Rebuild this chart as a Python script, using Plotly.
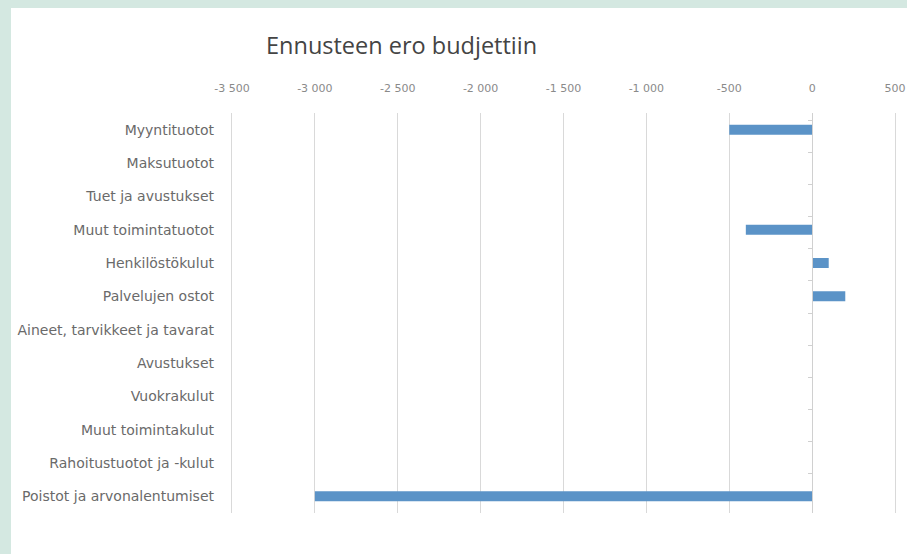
import plotly.graph_objects as go

categories = [
    "Myyntituotot",
    "Maksutuotot",
    "Tuet ja avustukset",
    "Muut toimintatuotot",
    "Henkilöstökulut",
    "Palvelujen ostot",
    "Aineet, tarvikkeet ja tavarat",
    "Avustukset",
    "Vuokrakulut",
    "Muut toimintakulut",
    "Rahoitustuotot ja -kulut",
    "Poistot ja arvonalentumiset",
]
values = [-500, 0, 0, -400, 100, 200, 0, 0, 0, 0, 0, -3000]

tick_vals = [-3500, -3000, -2500, -2000, -1500, -1000, -500, 0, 500]
tick_text = ["-3 500", "-3 000", "-2 500", "-2 000", "-1 500", "-1 000", "-500", "0", "500"]

title_text = "Ennusteen ero budjettiin"

W, H = 907, 554
L, R, T, B = 230, 10, 113, 41
pw = W - L - R
ph = H - T - B

X_MIN, X_MAX = -3512, 512

def px_x(x):
    return (x - L) / pw

def px_y(y):
    return (H - B - y) / ph

fig = go.Figure()
fig.add_trace(go.Bar(
    x=values, y=categories, orientation="h",
    marker=dict(color="#5b93c7", line=dict(width=0)),
    hoverinfo="x+y",
))
# invisible trace to carry the zero-axis tick marks
fig.add_trace(go.Scatter(
    x=[0] * len(categories), y=categories, yaxis="y2",
    mode="markers", marker=dict(opacity=0), showlegend=False, hoverinfo="skip",
))

zero_pos = (0 - X_MIN) / (X_MAX - X_MIN)

fig.update_layout(
    width=W, height=H,
    margin=dict(l=L, r=R, t=T, b=B, pad=0, autoexpand=False),
    paper_bgcolor="white",
    plot_bgcolor="white",
    showlegend=False,
    bargap=0.7,
    font=dict(family="DejaVu Sans, sans-serif", color="#7f7f7f"),
    title=dict(
        text=title_text,
        x=px_x(266), xref="paper", xanchor="left",
        y=1 - 46 / H, yref="container", yanchor="middle",
        font=dict(size=23.5, color="#444444", family="Open Sans, Noto Sans, sans-serif"),
    ),
    xaxis=dict(
        side="top",
        range=[X_MIN, X_MAX],
        tickvals=tick_vals, ticktext=tick_text,
        showgrid=True, gridcolor="#d9d9d9", gridwidth=1,
        zeroline=False,
        showline=False,
        ticks="",
        tickfont=dict(size=11, color="#8a8a8a", family="DejaVu Sans, sans-serif"),
        ticklabelstandoff=18,
        automargin=False,
        fixedrange=True,
    ),
    yaxis=dict(
        categoryorder="array", categoryarray=categories,
        autorange="reversed",
        showgrid=False, zeroline=False, showline=False,
        ticks="",
        tickfont=dict(size=14, color="#6a6a6a", family="DejaVu Sans, sans-serif"),
        ticklabelstandoff=15,
        automargin=False,
    ),
    yaxis2=dict(
        overlaying="y", anchor="free", position=zero_pos, side="left",
        categoryorder="array", categoryarray=categories,
        autorange="reversed",
        showline=True, linecolor="#d0d0d0", linewidth=1,
        ticks="outside", ticklen=4, tickcolor="#d0d0d0", tickson="boundaries",
        showticklabels=False, showgrid=False, zeroline=False,
        automargin=False,
    ),
    shapes=[
        dict(type="rect", xref="paper", yref="paper",
             x0=px_x(0), x1=px_x(11), y0=px_y(H), y1=px_y(0),
             fillcolor="#d4e8e1", line=dict(width=0), layer="below"),
        dict(type="rect", xref="paper", yref="paper",
             x0=px_x(0), x1=px_x(W), y0=px_y(8), y1=px_y(0),
             fillcolor="#d4e8e1", line=dict(width=0), layer="below"),
    ],
)

fig.write_html(
    "out.html",
    config={"displayModeBar": False},
    post_script="document.body.style.margin='0';document.body.style.overflow='hidden';",
)
